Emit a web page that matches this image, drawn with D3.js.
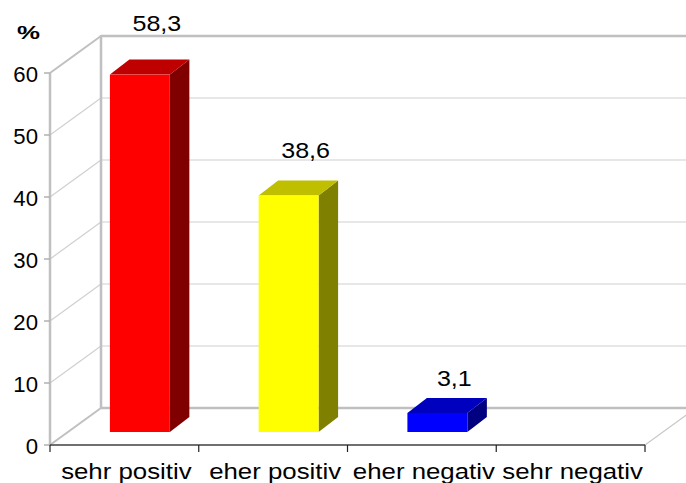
<!DOCTYPE html>
<html><head><meta charset="utf-8">
<script src="https://cdn.jsdelivr.net/npm/d3@7"></script>
<style>
html,body{margin:0;padding:0;background:#fff;}
svg{display:block;font-family:"Liberation Sans",Arial,sans-serif;}
</style></head>
<body><svg id="c" width="686" height="483"></svg>
<script>
const categories = ["sehr positiv","eher positiv","eher negativ","sehr negativ"];
const values = [58.3, 38.6, 3.1, 0];
const valueLabels = ["58,3","38,6","3,1",""];
const barColors = ["#ff0000","#ffff00","#0000ff","#00ff00"];
const yTicks = [0,10,20,30,40,50,60];
const unitLabel = "%";

const svg = d3.select("#c");
const x0 = 50, x1 = 645, yBase = 445, yTop = 73;
const depth = {dx: 51, dy: -37};
const barOff = {dx: 15.5, dy: -13};
const barDepth = {dx: 19.5, dy: -15};

const x = d3.scaleBand().domain(categories).range([x0, x1]).paddingInner(0.597).paddingOuter(0.2985);
const yF = d3.scaleLinear().domain([0,60]).range([yBase, yTop]);
const yBar = d3.scaleLinear().domain([0,60]).range([yBase + barOff.dy, yBase + barOff.dy - 367.8]);
const yLab = d3.scaleLinear().domain([0,60]).range([405.9, 20.3]);

function stretch(sel, k) {
  sel.each(function() {
    const n = this.getComputedTextLength();
    d3.select(this).attr("textLength", n * k).attr("lengthAdjust", "spacingAndGlyphs");
  });
  return sel;
}

const grid = svg.append("g");
yTicks.forEach(v => {
  const yb = yF(v) + depth.dy;
  const major = (v === 0 || v === 60);
  grid.append("line").attr("x1", x0 + depth.dx).attr("x2", x1 + depth.dx)
    .attr("y1", yb).attr("y2", yb)
    .attr("stroke", major ? "#c0c0c0" : "#d0d0d0").attr("stroke-width", major ? 2.5 : 1.2);
  grid.append("line").attr("x1", x0).attr("y1", yF(v)).attr("x2", x0 + depth.dx).attr("y2", yb)
    .attr("stroke", major ? "#c0c0c0" : "#d0d0d0").attr("stroke-width", major ? 2 : 1.2);
});
grid.append("line").attr("x1", x0 + depth.dx).attr("x2", x0 + depth.dx)
  .attr("y1", yF(0) + depth.dy).attr("y2", yF(60) + depth.dy - 1)
  .attr("stroke", "#c0c0c0").attr("stroke-width", 2.5);
grid.append("line").attr("x1", x1).attr("y1", yBase).attr("x2", x1 + depth.dx).attr("y2", yBase + depth.dy)
  .attr("stroke", "#c8c8c8").attr("stroke-width", 1.2);
grid.append("line").attr("x1", x0).attr("x2", x0).attr("y1", yF(0)).attr("y2", yF(60))
  .attr("stroke", "#c0c0c0").attr("stroke-width", 2.5);

const yAxis = svg.append("g");
yTicks.forEach(v => {
  yAxis.append("line").attr("x1", x0 - 6).attr("x2", x0).attr("y1", yF(v)).attr("y2", yF(v))
    .attr("stroke", "#b0b0b0").attr("stroke-width", 1.5);
  const t = yAxis.append("text").attr("x", 38).attr("y", yF(v) + 9).attr("text-anchor", "end")
    .attr("font-size", 21.5).attr("fill", "#000").text(d3.format("d")(v));
  stretch(t, 1.03);
});
svg.append("text").attr("x", 17).attr("y", 39).attr("font-size", 19).attr("font-weight", "bold")
  .attr("textLength", 23).attr("lengthAdjust", "spacingAndGlyphs").text(unitLabel);

const bars = svg.append("g");
categories.forEach((c, i) => {
  const v = values[i];
  if (!(v > 0)) return;
  const bx = x(c) + barOff.dx, bw = x.bandwidth();
  const yt = yBar(v), yb = yBar(0);
  const col = d3.rgb(barColors[i]);
  const top = d3.rgb(col.r * 0.75, col.g * 0.75, col.b * 0.75);
  const side = d3.rgb(col.r * 0.5, col.g * 0.5, col.b * 0.5);
  const dx = barDepth.dx, dy = barDepth.dy;
  bars.append("path").attr("d", `M${bx+bw},${yb}L${bx+bw+dx},${yb+dy}L${bx+bw+dx},${yt+dy}L${bx+bw},${yt}Z`)
    .attr("fill", side);
  bars.append("path").attr("d", `M${bx},${yt}L${bx+dx},${yt+dy}L${bx+bw+dx},${yt+dy}L${bx+bw},${yt}Z`)
    .attr("fill", top);
  bars.append("rect").attr("x", bx).attr("y", yt).attr("width", bw).attr("height", yb - yt).attr("fill", col);
  const t = svg.append("text").attr("x", bx + bw / 2 + 17).attr("y", yLab(v)).attr("text-anchor", "middle")
    .attr("font-size", 22).attr("fill", "#000").text(valueLabels[i]);
  stretch(t, 1.14);
});

const xAxis = svg.append("g");
xAxis.append("line").attr("x1", x0).attr("x2", x1).attr("y1", yBase).attr("y2", yBase)
  .attr("stroke", "#404040").attr("stroke-width", 1.5);
const edges = categories.map(c => x(c) - x.step() * x.paddingInner() / 2).concat([x1]);
edges[0] = x0;
edges.forEach(e => {
  xAxis.append("line").attr("x1", e).attr("x2", e).attr("y1", yBase).attr("y2", yBase + 7)
    .attr("stroke", "#202020").attr("stroke-width", 1.2);
});
categories.forEach(c => {
  const t = xAxis.append("text").attr("x", x(c) + x.bandwidth() / 2 + 2).attr("y", 479).attr("text-anchor", "middle")
    .attr("font-size", 21.5).attr("fill", "#000").text(c);
  stretch(t, 1.2);
});
</script>
</body></html>
